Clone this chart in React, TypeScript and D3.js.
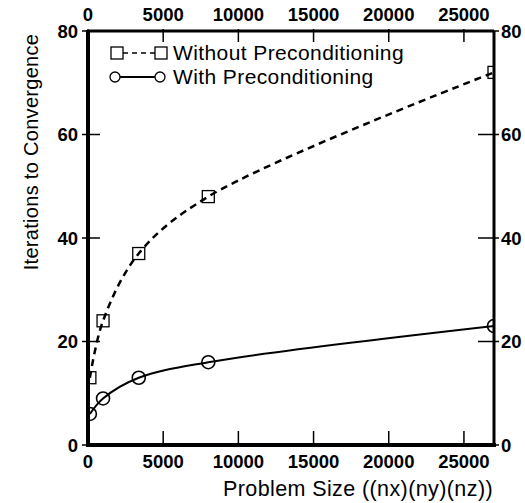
import React from "react";
import * as d3 from "d3";

const problemSizes = [125, 1000, 3375, 8000, 27000];
const withoutPrecond = [13, 24, 37, 48, 72];
const withPrecond = [6, 9, 13, 16, 23];
const xTicks = [0, 5000, 10000, 15000, 20000, 25000];
const yTicks = [0, 20, 40, 60, 80];
const legendLabels = ["Without Preconditioning", "With Preconditioning"];
const xTitle = "Problem Size ((nx)(ny)(nz))";
const yTitle = "Iterations to Convergence";

const W = 525, H = 503;
const L = 88, R = 494, T = 31, B = 445;
const FONT = "'Liberation Sans', Arial, Helvetica, sans-serif";

export default function App() {
  const x = d3.scaleLinear().domain([0, 27000]).range([L, R]);
  const y = d3.scaleLinear().domain([0, 80]).range([B, T]);
  const line = d3
    .line<number>()
    .x((_, i) => x(problemSizes[i]))
    .y((d) => y(d))
    .curve(d3.curveCatmullRom.alpha(0.5));

  const sq = 12;
  return (
    <svg width={W} height={H} style={{ position: "absolute", left: 0, top: 0, background: "#fff" }}>
      <defs>
        <clipPath id="plot">
          <rect x={L} y={T} width={R - L} height={B - T} />
        </clipPath>
      </defs>
      <rect x={0} y={0} width={W} height={H} fill="#fff" />
      <g clipPath="url(#plot)">
        <path d={line(withoutPrecond) || ""} fill="none" stroke="#000" strokeWidth={2.5} strokeDasharray="7,5" />
        <path d={line(withPrecond) || ""} fill="none" stroke="#000" strokeWidth={2} />
        {withoutPrecond.map((v, i) => (
          <rect key={"s" + i} x={x(problemSizes[i]) - sq / 2} y={y(v) - sq / 2} width={sq} height={sq}
            fill="none" stroke="#000" strokeWidth={1.3} />
        ))}
        {withPrecond.map((v, i) => (
          <circle key={"c" + i} cx={x(problemSizes[i])} cy={y(v)} r={6.5} fill="none" stroke="#000" strokeWidth={1.6} />
        ))}
      </g>
      {/* frame */}
      <line x1={L} x2={L} y1={T - 1} y2={B + 2} stroke="#000" strokeWidth={4} />
      <line x1={L - 2} x2={R + 2} y1={B} y2={B} stroke="#000" strokeWidth={4} />
      <line x1={L} x2={R} y1={T} y2={T} stroke="#000" strokeWidth={3} />
      <line x1={R} x2={R} y1={T} y2={B} stroke="#000" strokeWidth={3} />
      {/* x ticks bottom and top */}
      {xTicks.map((t) => (
        <g key={"xt" + t}>
          <line x1={x(t)} x2={x(t)} y1={B + 2} y2={B - 14} stroke="#000" strokeWidth={1.5} />
          <line x1={x(t)} x2={x(t)} y1={T - 2} y2={T + 11} stroke="#000" strokeWidth={1.5} />
          <text x={x(t)} y={B + 23} textAnchor="middle" fontFamily={FONT} fontWeight="bold" fontSize={18.5}>{t}</text>
          <text x={x(t)} y={T - 10} textAnchor="middle" fontFamily={FONT} fontWeight="bold" fontSize={18.5}>{t}</text>
        </g>
      ))}
      {/* y ticks left and right */}
      {yTicks.map((t) => (
        <g key={"yt" + t}>
          <line x1={L - 6} x2={L + 12} y1={y(t)} y2={y(t)} stroke="#000" strokeWidth={1.5} />
          <line x1={R - 16} x2={R + 5} y1={y(t)} y2={y(t)} stroke="#000" strokeWidth={1.5} />
          <text x={L - 10} y={y(t) + 6.5} textAnchor="end" fontFamily={FONT} fontWeight="bold" fontSize={18.5}>{t}</text>
          <text x={R + 7} y={y(t) + 6.5} textAnchor="start" fontFamily={FONT} fontWeight="bold" fontSize={18.5}>{t}</text>
        </g>
      ))}
      {/* axis titles */}
      <text x={493} y={496} textAnchor="end" fontFamily={FONT} fontSize={21.5} letterSpacing={0.4}>{xTitle}</text>
      <text transform="translate(38,152) rotate(-90)" textAnchor="middle" fontFamily={FONT} fontSize={20} letterSpacing={0.3}>{yTitle}</text>
      {/* legend */}
      <g>
        <line x1={123} x2={155} y1={53} y2={53} stroke="#000" strokeWidth={1.6} strokeDasharray="5,4" />
        <rect x={111} y={47} width={12} height={12} fill="#fff" stroke="#000" strokeWidth={1.3} />
        <rect x={155} y={47} width={12} height={12} fill="#fff" stroke="#000" strokeWidth={1.3} />
        <text x={173} y={60} fontFamily={FONT} fontSize={21} letterSpacing={0.4}>{legendLabels[0]}</text>
        <line x1={120} x2={155} y1={77} y2={77} stroke="#000" strokeWidth={2} />
        <circle cx={115} cy={77} r={5} fill="#fff" stroke="#000" strokeWidth={1.3} />
        <circle cx={160} cy={77} r={5} fill="#fff" stroke="#000" strokeWidth={1.3} />
        <text x={173} y={84} fontFamily={FONT} fontSize={21} letterSpacing={0.4}>{legendLabels[1]}</text>
      </g>
    </svg>
  );
}
